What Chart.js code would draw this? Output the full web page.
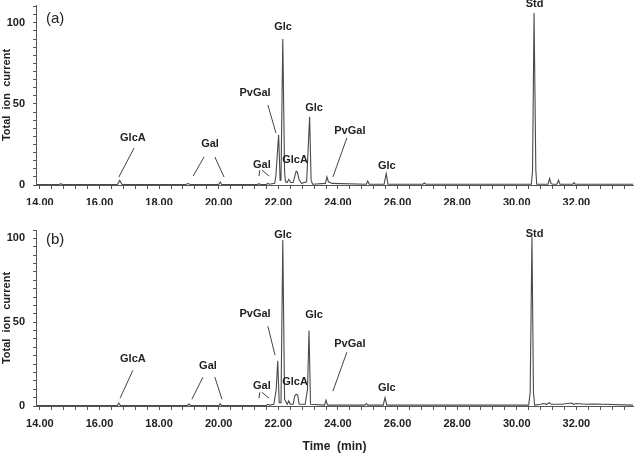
<!DOCTYPE html>
<html>
<head>
<meta charset="utf-8">
<script src="https://cdn.jsdelivr.net/npm/chart.js@4/dist/chart.umd.min.js"></script>
<style>
  body { margin: 0; background: #fff; }
  .painel { position: absolute; left: 0; width: 635px; }
</style>
</head>
<body>
<div class="painel" style="top:0px;height:205px"><canvas id="graficoA" width="635" height="205"></canvas></div>
<div class="painel" style="top:220px;height:234px"><canvas id="graficoB" width="635" height="234"></canvas></div>
<script>
// cromatograma (a) - tempo (min) e sinal (%)
const tempoA = [13.9, 14.65, 14.7, 14.75, 16.6, 16.68, 16.76, 18.9, 18.97, 19.05, 20.0, 20.05, 20.1,
  21.3, 21.35, 21.4, 21.6, 21.65, 21.7, 21.88, 21.92, 22.01, 22.06, 22.09, 22.15, 22.21, 22.24,
  22.3, 22.35, 22.42, 22.5, 22.56, 22.6, 22.64, 22.7, 22.78, 22.95, 23.05, 23.1, 23.15,
  23.58, 23.63, 23.68, 23.8, 24.95, 25.0, 25.05, 25.55, 25.62, 25.68, 26.85, 26.9, 26.95,
  30.49, 30.53, 30.58, 30.64, 30.67, 31.05, 31.1, 31.15, 31.2, 31.35, 31.4, 31.45, 31.88, 31.92, 31.96, 33.9];
const sinalA = [0.3, 0.3, 0.8, 0.3, 0.3, 2.8, 0.3, 0.3, 0.9, 0.3, 0.3, 1.8, 0.3,
  0.3, 0.8, 0.3, 0.3, 1.0, 0.5, 1, 6, 31, 3, 4, 90, 8, 2,
  1.5, 3.5, 1.5, 1.5, 6, 8.5, 8, 3, 1, 2, 42, 3, 0.5,
  1, 5, 2, 1, 0.5, 2.5, 0.5, 0.5, 7, 0.5, 0.5, 1.2, 0.5,
  0.5, 9, 106, 9, 0.5, 0.5, 4, 1, 0.5, 0.5, 3, 0.5, 0.5, 1.5, 0.5, 0.5];

// cromatograma (b)
const tempoB = [13.9, 16.6, 16.65, 16.7, 18.95, 19.0, 19.05, 20.02, 20.05, 20.1, 21.6, 21.65, 21.7,
  21.85, 21.93, 21.98, 22.03, 22.09, 22.15, 22.21, 22.3, 22.35, 22.4, 22.5, 22.55, 22.6, 22.65, 22.7,
  22.9, 22.98, 23.03, 23.08, 23.55, 23.6, 23.65, 24.9, 24.95, 25.0, 25.52, 25.58, 25.64,
  30.4, 30.45, 30.51, 30.56, 30.6, 30.8, 30.9, 31.0, 31.1, 31.15, 31.5, 31.85, 31.9, 32.0, 32.3, 32.6, 33.9];
const sinalB = [0.3, 0.3, 1.8, 0.3, 0.3, 1.2, 0.3, 0.3, 1.3, 0.3, 0.3, 1, 0.5,
  1, 10, 27, 2, 2, 99, 4, 1, 3, 1, 1, 6, 7, 6.5, 1,
  1, 10, 45, 1, 0.5, 3.5, 0.5, 0.5, 1.5, 0.5, 0.5, 5, 0.5,
  0.5, 8, 101, 8, 0.5, 1, 1.5, 1, 2, 1, 1, 1.8, 1, 1.5, 1, 1.2, 0.5];

// nomes dos picos: [texto, tempo, sinal]
const nomesA = [['GlcA', 17.12, 29.0], ['Gal', 19.71, 25.3], ['Gal', 21.45, 12.3], ['PvGal', 21.22, 56.7],
  ['Glc', 22.16, 97.4], ['GlcA', 22.56, 15.4], ['Glc', 23.20, 47.5], ['PvGal', 24.40, 33.3],
  ['Glc', 25.64, 11.7], ['Std', 30.6, 111.6]];
const nomesB = [['GlcA', 17.12, 27.9], ['Gal', 19.64, 23.7], ['Gal', 21.45, 11.8], ['PvGal', 21.22, 54.8],
  ['Glc', 22.16, 102], ['GlcA', 22.56, 14.2], ['Glc', 23.20, 54.2], ['PvGal', 24.40, 36.9],
  ['Glc', 25.64, 10.6], ['Std', 30.6, 102.6]];

// linhas de chamada: [t1, s1, t2, s2]
const linhasA = [[17.16, 22.8, 16.65, 4.9], [19.51, 17.3, 19.14, 5.5], [19.87, 17.3, 20.18, 4.9],
  [21.38, 9.2, 21.35, 5.5], [21.45, 9.2, 21.69, 5.5], [21.65, 49.3, 21.92, 32.1], [24.30, 29.0, 23.83, 4.9]];
const linhasB = [[17.12, 21.3, 16.69, 4.6], [19.47, 17.2, 19.10, 4.0], [19.87, 17.2, 20.11, 4.0],
  [21.38, 8.2, 21.35, 4.6], [21.45, 8.2, 21.69, 4.6], [21.65, 47.6, 21.89, 30.3], [24.30, 32.1, 23.83, 8.8]];

const ticksX = [];
for (let k = 0; k <= 49; k++) ticksX.push(Math.round((14 + k * 0.4) * 10) / 10);

const fonte = '"Liberation Sans", Arial, sans-serif';

const anotacoes = {
  id: 'anotacoes',
  afterDatasetsDraw(chart, args, opts) {
    const ctx = chart.ctx;
    const x = chart.scales.x, y = chart.scales.y;
    ctx.save();
    ctx.strokeStyle = '#444';
    ctx.lineWidth = 1;
    opts.linhas.forEach(l => {
      ctx.beginPath();
      ctx.moveTo(x.getPixelForValue(l[0]), y.getPixelForValue(l[1]));
      ctx.lineTo(x.getPixelForValue(l[2]), y.getPixelForValue(l[3]));
      ctx.stroke();
    });
    ctx.fillStyle = '#222';
    ctx.textAlign = 'center';
    ctx.textBaseline = 'middle';
    ctx.font = 'bold 11px ' + fonte;
    opts.nomes.forEach(n => ctx.fillText(n[0], x.getPixelForValue(n[1]), y.getPixelForValue(n[2])));
    ctx.font = '15px ' + fonte;
    ctx.fillText(opts.painel, x.getPixelForValue(14.51), y.getPixelForValue(opts.alturaPainel));
    ctx.restore();
  }
};

function Cromatograma(id, tempo, sinal, nomes, linhas, painel, alturaPainel, maxY, topo, alturaX, tituloX) {
  const pontos = tempo.map((t, i) => ({ x: t, y: sinal[i] }));
  const ticksY = [];
  for (let v = 0; v <= maxY; v += 5) ticksY.push(v);
  const ctx = document.getElementById(id).getContext('2d');
  new Chart(ctx, {
    type: 'line',
    data: {
      datasets: [{
        data: pontos,
        borderColor: '#4a4a4a',
        borderWidth: 1.1,
        pointRadius: 0,
        tension: 0
      }]
    },
    plugins: [anotacoes],
    options: {
      responsive: false,
      animation: false,
      layout: { padding: { top: topo, right: 2, left: 0, bottom: 0 } },
      plugins: {
        legend: { display: false },
        tooltip: { enabled: false },
        anotacoes: { nomes: nomes, linhas: linhas, painel: painel, alturaPainel: alturaPainel }
      },
      scales: {
        x: {
          type: 'linear',
          min: 13.87,
          max: 33.9,
          afterBuildTicks: s => { s.ticks = ticksX.map(v => ({ value: v })); },
          afterFit: s => { s.height = alturaX; s.paddingLeft = 0; s.paddingRight = 0; },
          grid: { drawOnChartArea: false, drawTicks: true, tickLength: 4, color: '#555' },
          border: { display: true, color: '#555' },
          ticks: {
            autoSkip: false,
            maxRotation: 0,
            padding: 7,
            color: '#222',
            font: { family: fonte, size: 11, weight: 'bold' },
            callback: v => (Math.abs(v / 2 - Math.round(v / 2)) < 1e-6 ? v.toFixed(2) : '')
          },
          title: {
            display: tituloX,
            text: 'Time  (min)',
            color: '#222',
            padding: 0,
            font: { family: fonte, size: 12, weight: 'bold' }
          }
        },
        y: {
          min: 0,
          max: maxY,
          afterBuildTicks: s => { s.ticks = ticksY.map(v => ({ value: v })); },
          // sem folga extra em cima, a area do grafico fica onde eu quero
          afterFit: s => { s.width = 36; s.paddingTop = 0; s.paddingBottom = 0; },
          grid: { drawOnChartArea: false, drawTicks: true, tickLength: 3, color: '#555' },
          border: { display: true, color: '#555' },
          ticks: {
            autoSkip: false,
            padding: 8,
            color: '#222',
            font: { family: fonte, size: 11, weight: 'bold' },
            callback: v => (v % 50 === 0 ? v : '')
          },
          title: {
            display: true,
            text: 'Total  ion  current',
            color: '#222',
            padding: 0,
            font: { family: fonte, size: 11, weight: 'bold' }
          }
        }
      }
    }
  });
}

Cromatograma('graficoA', tempoA, sinalA, nomesA, linhasA, '(a)', 102.4, 111, 5, 20, false);
Cromatograma('graficoB', tempoB, sinalB, nomesB, linhasB, '(b)', 99.4, 105, 10, 48, true);
</script>
</body>
</html>
